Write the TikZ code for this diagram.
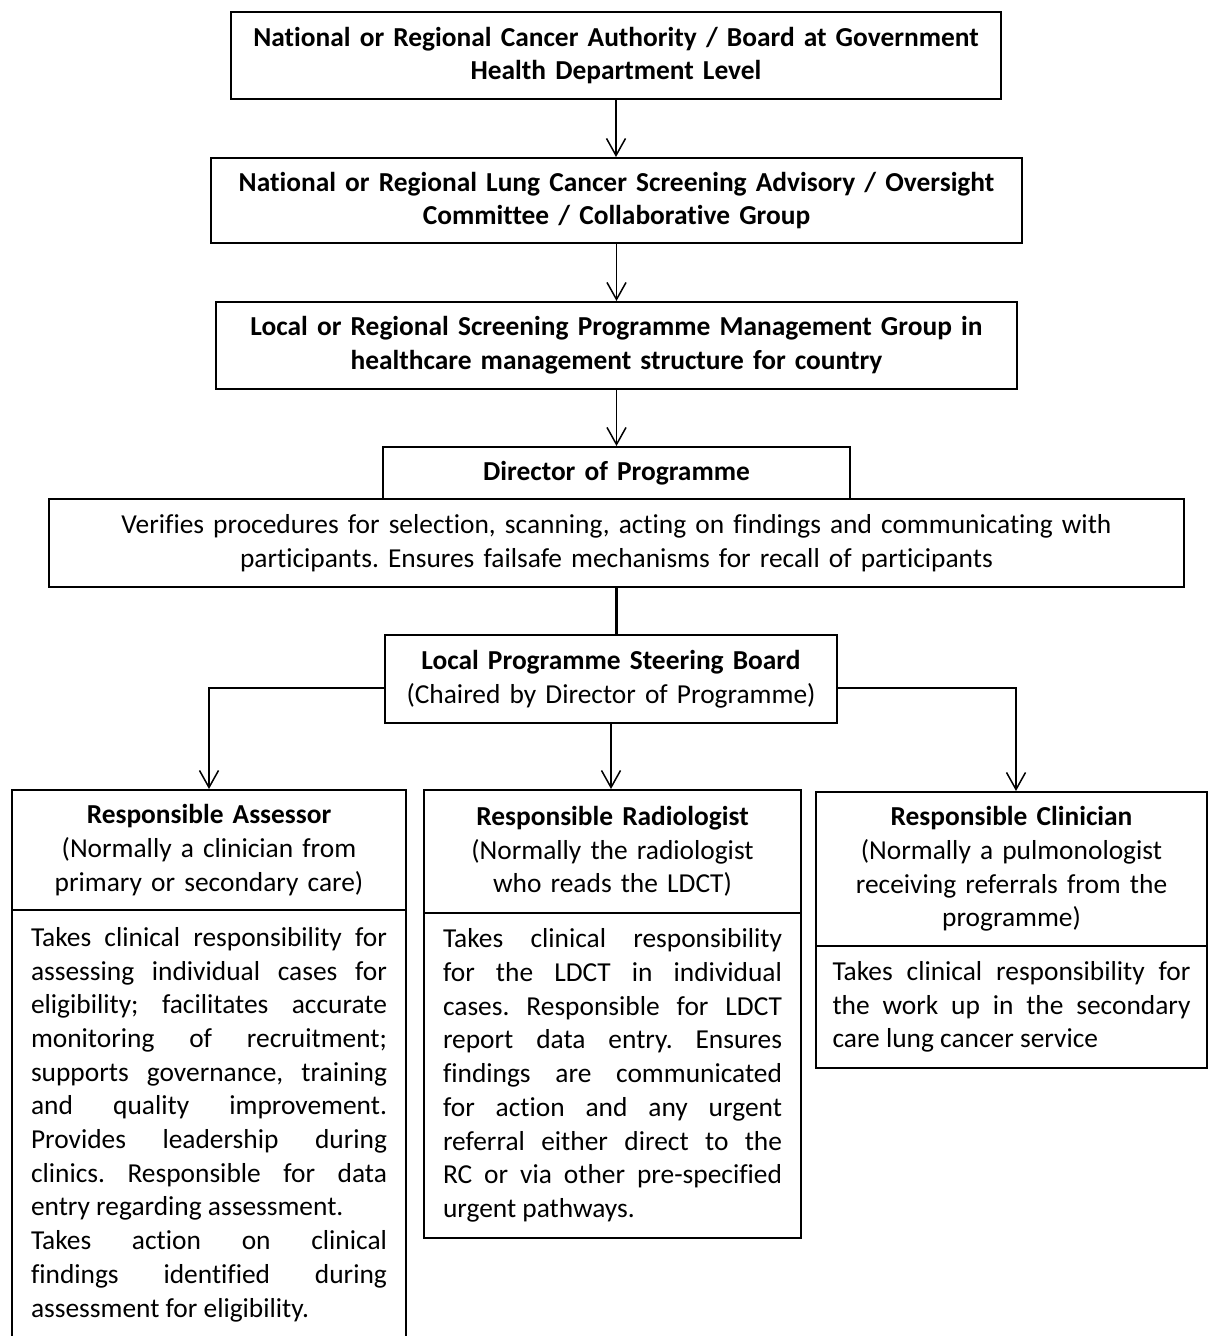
\documentclass[tikz,border=0pt]{standalone}
\usepackage{fontspec}
\setmainfont{Carlito}[Ligatures=NoCommon]
\usetikzlibrary{arrows.meta}
\setlength{\parindent}{0pt}
\setlength{\parskip}{0pt}
\tolerance=10000
\hbadness=10000
\frenchspacing
\begin{document}
\begin{tikzpicture}[x=0.5pt,y=-0.5pt,
  every node/.style={font=\fontsize{13.7}{16.85}\selectfont},
  box/.style={draw=black,line width=1pt,inner sep=0pt,align=center},
  bbox/.style={box,font=\fontsize{13.7}{16.85}\selectfont\bfseries},
  body/.style={draw=black,line width=1pt,inner sep=0pt,align=justify},
  arr/.style={draw=black,line width=0.75pt,-{Straight Barb[length=8.5pt,width=9.5pt]}},
  thickline/.style={draw=black,line width=1.5pt}
]
\useasboundingbox[fill=white] (0,0) rectangle (1208,1336);

\node[bbox,minimum width=385pt,minimum height=43.5pt,text width=378pt] (b1) at (616,55.5)
  {National or Regional Cancer Authority / Board at Government\\Health Department Level};
\node[bbox,minimum width=405.5pt,minimum height=42.5pt,text width=398pt] (b2) at (616.5,200.5)
  {National or Regional Lung Cancer Screening Advisory / Oversight\\Committee / Collaborative Group};
\node[bbox,minimum width=400.5pt,minimum height=43.5pt,text width=393pt] (b3) at (616.5,345.5)
  {Local or Regional Screening Programme Management Group in\\healthcare management structure for country};
\node[bbox,minimum width=233.5pt,minimum height=26pt,text width=225pt] (b4) at (616.5,473)
  {Director of Programme};
\node[box,minimum width=567.5pt,minimum height=44pt,text width=560pt] (b5) at (616.5,543)
  {Verifies procedures for selection, scanning, acting on findings and communicating with\\participants. Ensures failsafe mechanisms for recall of participants};
\node[box,minimum width=226pt,minimum height=44pt,text width=222pt] (b6) at (611,679)
  {\textbf{Local Programme Steering Board}\\(Chaired by Director of Programme)};

\node[box,minimum width=197pt,minimum height=60pt,text width=190pt] (lh) at (209,850)
  {\textbf{Responsible Assessor}\\(Normally a clinician from\\primary or secondary care)};
\node[body,minimum width=197pt,minimum height=214.5pt,text width=178pt] (lb) at (209,1124.5)
  {Takes clinical responsibility for\linebreak assessing individual cases for\linebreak eligibility; facilitates accurate\linebreak monitoring of recruitment;\linebreak supports governance, training\linebreak and quality improvement.\linebreak Provides leadership during\linebreak clinics. Responsible for data\linebreak entry regarding assessment.\par Takes action on clinical\linebreak findings identified during\linebreak assessment for eligibility.};

\node[box,minimum width=188.5pt,minimum height=61.5pt,text width=182pt] (mh) at (612.5,851.5)
  {\textbf{Responsible Radiologist}\\(Normally the radiologist\\who reads the LDCT)};
\node[body,minimum width=188.5pt,minimum height=162.5pt,text width=169.5pt] (mb) at (612.5,1075.5)
  {Takes clinical responsibility\linebreak for the LDCT in individual\linebreak cases. Responsible for LDCT\linebreak report data entry. Ensures\linebreak findings are communicated\linebreak for action and any urgent\linebreak referral either direct to the\linebreak RC or via other pre-specified\linebreak urgent pathways.};

\node[box,minimum width=195.5pt,minimum height=77pt,text width=188pt] (rh) at (1011.5,869)
  {\textbf{Responsible Clinician}\\(Normally a pulmonologist\\receiving referrals from the\\programme)};
\node[body,minimum width=195.5pt,minimum height=61pt,text width=179pt] (rb) at (1011.5,1007)
  {Takes clinical responsibility for\linebreak the work up in the secondary\linebreak care lung cancer service};

\draw[arr] (b1.south) -- (b1.south |- b2.north);
\draw[arr] (b2.south) -- (b2.south |- b3.north);
\draw[arr] (b3.south) -- (b3.south |- b4.north);
\draw[thickline] (b5.south) -- (b5.south |- b6.north);
\draw[arr] ([yshift=-4.5pt]b6.west) -| (lh.north);
\draw[arr] ([yshift=-4.5pt]b6.east) -| ([xshift=2.25pt]rh.north);
\draw[arr] (b6.south) -- (b6.south |- mh.north);
\end{tikzpicture}
\end{document}
